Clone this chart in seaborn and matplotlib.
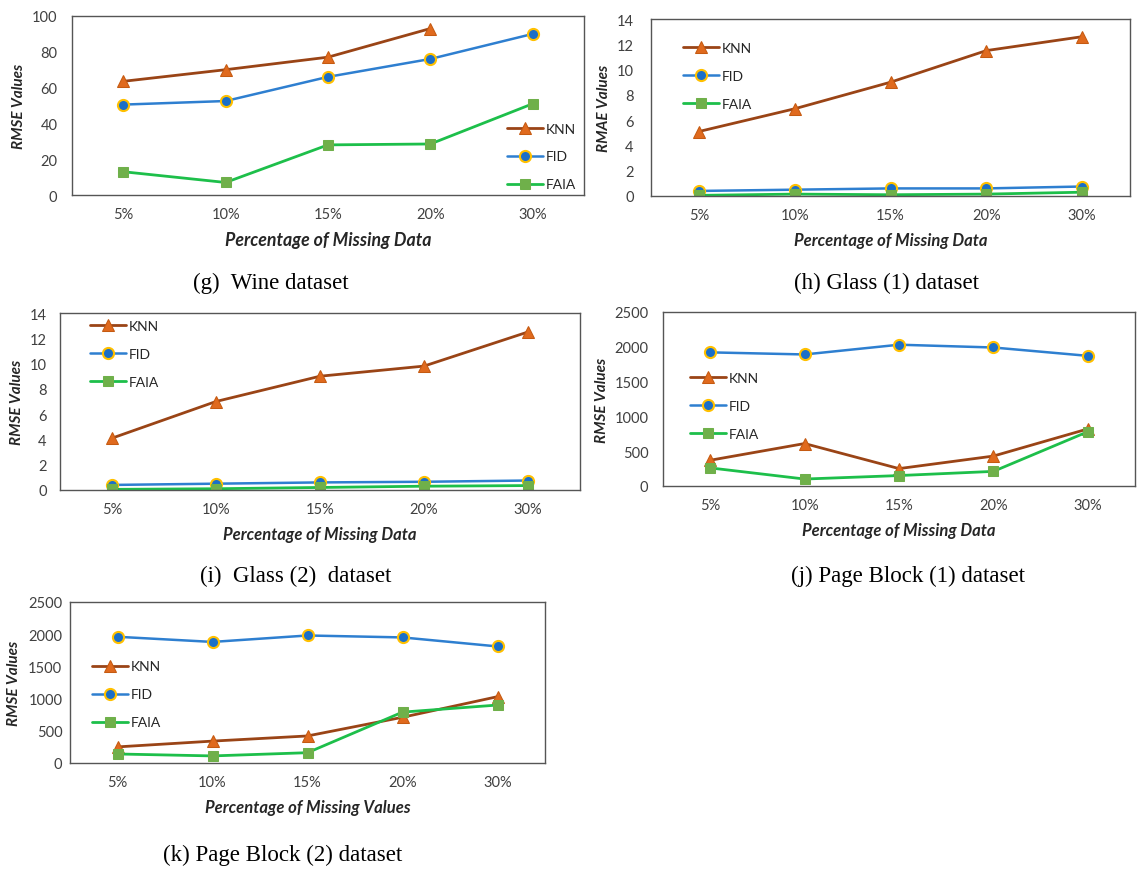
import numpy as np
import pandas as pd
import matplotlib
matplotlib.use("Agg")
import matplotlib.pyplot as plt
import seaborn as sns

sns.set_theme(style="white")
plt.rcParams['font.family'] = ['Lato', 'DejaVu Sans']

# ---------------- data ----------------
pct_labels = ["5%", "10%", "15%", "20%", "30%"]
series_names = ["KNN", "FID", "FAIA"]

wine_knn = [63.5, 70, 77, 93, np.nan]
wine_fid = [50.5, 52.5, 66, 76, 90]
wine_faia = [13, 7, 28, 28.5, 51]

glass1_knn = [5.1, 6.9, 9.0, 11.5, 12.6]
glass1_fid = [0.4, 0.5, 0.6, 0.6, 0.75]
glass1_faia = [0.05, 0.15, 0.1, 0.15, 0.3]

glass2_knn = [4.1, 7.0, 9.0, 9.8, 12.5]
glass2_fid = [0.4, 0.5, 0.6, 0.65, 0.75]
glass2_faia = [0.05, 0.1, 0.2, 0.3, 0.35]

page1_knn = [370, 610, 250, 430, 820]
page1_fid = [1920, 1890, 2030, 1990, 1870]
page1_faia = [260, 100, 150, 210, 780]

page2_knn = [250, 340, 420, 710, 1030]
page2_fid = [1960, 1880, 1980, 1950, 1810]
page2_faia = [140, 110, 160, 790, 900]

captions = ["(g)  Wine dataset", "(h) Glass (1) dataset", "(i)  Glass (2)  dataset",
            "(j) Page Block (1) dataset", "(k) Page Block (2) dataset"]

# ---------------- styles ----------------
styles = {
    "KNN": dict(color="#9A4416", marker="^", markerfacecolor="#E06A1E",
                markeredgecolor="#C55A11", markersize=8.5, linewidth=2.0),
    "FID": dict(color="#2E7FD0", marker="o", markerfacecolor="#1B6FC8",
                markeredgecolor="#FFC000", markersize=8, markeredgewidth=1.5, linewidth=1.8),
    "FAIA": dict(color="#1DBF4A", marker="s", markerfacecolor="#6FB04A",
                 markeredgecolor="#6FB04A", markersize=7, linewidth=2.0),
}

W, H = 1137, 870
fig = plt.figure(figsize=(W / 100, H / 100), dpi=100)

def rect(l, t, r, b):
    return [l / W, 1 - b / H, (r - l) / W, (b - t) / H]

panels = [
    dict(box=(72, 17, 584, 196), data=[wine_knn, wine_fid, wine_faia], ylim=(0, 100), step=20,
         ylabel="RMSE Values", xlabel="Percentage of Missing Data", leg=(0.85, 0.405),
         cap=(271, 283), ypad=10.5, ylp=4, xls=12.8),
    dict(box=(651, 20, 1130, 197), data=[glass1_knn, glass1_fid, glass1_faia], ylim=(0, 14), step=2,
         ylabel="RMAE Values", xlabel="Percentage of Missing Data", leg=(0.067, 0.87),
         cap=(887, 283), ypad=12.5, ylp=4, xls=12),
    dict(box=(60, 314, 580, 491), data=[glass2_knn, glass2_fid, glass2_faia], ylim=(0, 14), step=2,
         ylabel="RMSE Values", xlabel="Percentage of Missing Data", leg=(0.058, 0.96),
         cap=(296, 576), ypad=9.5, ylp=4, xls=12),
    dict(box=(663, 313, 1135, 487), data=[page1_knn, page1_fid, page1_faia], ylim=(0, 2500), step=500,
         ylabel="RMSE Values", xlabel="Percentage of Missing Data", leg=(0.057, 0.657),
         cap=(908, 576), ypad=10.5, ylp=4, xls=12),
    dict(box=(70, 603, 545, 764), data=[page2_knn, page2_fid, page2_faia], ylim=(0, 2500), step=500,
         ylabel="RMSE Values", xlabel="Percentage of Missing Values", leg=(0.046, 0.637),
         cap=(283, 855), ypad=5.5, ylp=5, xls=12),
]

xpos = np.arange(len(pct_labels))
for p, cap in zip(panels, captions):
    ax = fig.add_axes(rect(*p["box"]))
    for name, vals in zip(series_names, p["data"]):
        df = pd.DataFrame({"x": xpos, "y": vals})
        sns.lineplot(data=df, x="x", y="y", ax=ax, label=name, **styles[name])
    ax.set_xlim(-0.5, 4.5)
    ax.set_ylim(*p["ylim"])
    ax.set_yticks(np.arange(p["ylim"][0], p["ylim"][1] + p["step"] / 2, p["step"]))
    ax.set_xticks(xpos)
    ax.set_xticklabels(pct_labels)
    ax.tick_params(axis="both", length=0, labelsize=10.5, labelcolor="#404040")
    ax.tick_params(axis="y", pad=p["ypad"])
    ax.tick_params(axis="x", pad=8.5)
    for s in ax.spines.values():
        s.set_color("#555555")
        s.set_linewidth(1.0)
    ax.set_ylabel(p["ylabel"], fontsize=11, fontweight="bold", fontstyle="italic",
                  color="#262626", labelpad=p["ylp"])
    ax.set_xlabel(p["xlabel"], fontsize=p["xls"], fontweight="bold", fontstyle="italic",
                  color="#262626", labelpad=7)
    ax.legend(loc="upper left", bbox_to_anchor=p["leg"], frameon=False, fontsize=10,
              handlelength=2.6, handletextpad=0.2, labelspacing=1.15, borderpad=0,
              borderaxespad=0, labelcolor="#262626")
    fig.text(p["cap"][0] / W, 1 - p["cap"][1] / H, cap, ha="center", va="center",
             fontsize=16.5, family="Liberation Serif", color="black")

fig.savefig("out.png", dpi=100, facecolor="white")
